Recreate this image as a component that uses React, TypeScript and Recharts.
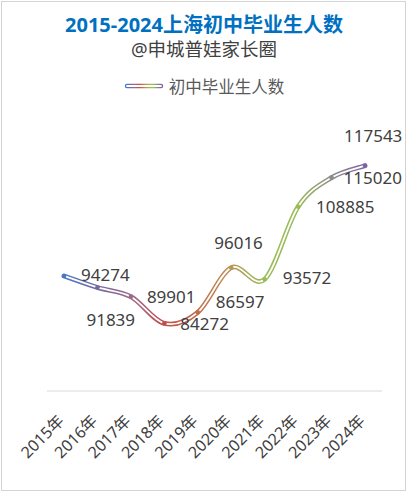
import React from 'react';
import { LineChart, Line, XAxis, YAxis, LabelList } from 'recharts';

const years = ['2015年', '2016年', '2017年', '2018年', '2019年', '2020年', '2021年', '2022年', '2023年', '2024年'];
const graduates = [94274, 91839, 89901, 84272, 86597, 96016, 93572, 108885, 115020, 117543];

const title = '2015-2024上海初中毕业生人数';
const subtitle = '@申城普娃家长圈';
const seriesName = '初中毕业生人数';

// style: gradient stops / marker colours / label placements
const gradientStops = ['#4a78c6', '#74699f', '#9c6a8b', '#c0504d', '#c06c4c', '#b8965a', '#9bbb59', '#9bbb59', '#8c8c8c', '#8064a2'];
const labelOffsets = [
  [17, -1], [-11, 33], [16, 0], [16, 1], [18, -10], [-17, -25], [18, -1], [18, 0], [12, 0], [-21, -30],
];

const FONT = "'Noto Sans', 'Noto Sans CJK SC', sans-serif";

const data = years.map((y, i) => ({ year: y, value: graduates[i] }));

// Excel-like smoothing (Catmull-Rom as cubic Bezier)
function excelCurve(context: any) {
  let pts: number[][] = [];
  return {
    areaStart() {},
    areaEnd() {},
    lineStart() { pts = []; },
    point(x: number, y: number) { pts.push([+x, +y]); },
    lineEnd() {
      const n = pts.length;
      if (!n) return;
      context.moveTo(pts[0][0], pts[0][1]);
      for (let i = 0; i < n - 1; i++) {
        const p0 = pts[Math.max(i - 1, 0)];
        const p1 = pts[i];
        const p2 = pts[i + 1];
        const p3 = pts[Math.min(i + 2, n - 1)];
        context.bezierCurveTo(
          p1[0] + (p2[0] - p0[0]) / 6, p1[1] + (p2[1] - p0[1]) / 6,
          p2[0] - (p3[0] - p1[0]) / 6, p2[1] - (p3[1] - p1[1]) / 6,
          p2[0], p2[1],
        );
      }
    },
  };
}

const Dot = (props: any) => {
  const { cx, cy, index } = props;
  if (cx == null || cy == null) return null;
  return <circle key={`d${index}`} cx={cx} cy={cy} r={2.3} fill={gradientStops[index]} />;
};

const ValueLabel = (props: any) => {
  const { x, y, value, index } = props;
  const [dx, dy] = labelOffsets[index];
  return (
    <text x={x + dx} y={y + dy + 6} textAnchor="start" fontSize={17} fill="#404040" fontFamily={FONT}>
      {value}
    </text>
  );
};

const YearTick = (props: any) => {
  const { x, y, payload } = props;
  const ax = x + 1;
  const ay = y + 31;
  return (
    <text x={ax} y={ay} textAnchor="end" fontSize={16} fill="#404040" fontFamily={FONT} transform={`rotate(-45, ${ax}, ${ay})`}>
      {payload.value}
    </text>
  );
};

export default function App() {
  return (
    <div style={{ position: 'absolute', left: 0, top: 0, width: 408, height: 493, background: '#fff', fontFamily: FONT }}>
      <div style={{ position: 'absolute', left: 1, top: 1, width: 405, height: 490, boxSizing: 'border-box', border: '1px solid #d4d4d4' }} />
      <div style={{ position: 'absolute', left: 0, top: 13, width: 408, textAlign: 'center', fontSize: 20, fontWeight: 700, color: '#0070c0', lineHeight: '24px' }}>
        {title}
      </div>
      <div style={{ position: 'absolute', left: 0, top: 38, width: 408, textAlign: 'center', fontSize: 18.5, color: '#404040', lineHeight: '22px' }}>
        {subtitle}
      </div>
      <div style={{ position: 'absolute', left: 0, top: 74, width: 408, display: 'flex', justifyContent: 'center', alignItems: 'center', height: 24 }}>
        <svg width={40} height={10} style={{ marginRight: 5 }}>
          <defs>
            <linearGradient id="legGrad" gradientUnits="userSpaceOnUse" x1="3" y1="0" x2="37" y2="0">
              {gradientStops.map((c, i) => (
                <stop key={i} offset={i / (gradientStops.length - 1)} stopColor={c} />
              ))}
            </linearGradient>
          </defs>
          <line x1={3} y1={5} x2={37} y2={5} stroke="url(#legGrad)" strokeWidth={4.5} strokeLinecap="round" />
          <line x1={3} y1={5} x2={37} y2={5} stroke="#fff" strokeWidth={1.8} strokeLinecap="round" />
        </svg>
        <span style={{ fontSize: 16.5, color: '#595959' }}>{seriesName}</span>
      </div>
      <div style={{ position: 'absolute', left: 0, top: 0 }}>
        <LineChart width={408} height={493} data={data} margin={{ top: 154, right: 26, bottom: 32, left: 47 }}>
          <defs>
            <linearGradient id="lineGrad" x1="0" y1="0" x2="1" y2="0">
              {gradientStops.map((c, i) => (
                <stop key={i} offset={i / (gradientStops.length - 1)} stopColor={c} />
              ))}
            </linearGradient>
          </defs>
          <XAxis
            dataKey="year"
            interval={0}
            height={70}
            padding={{ left: 17, right: 17 }}
            axisLine={{ stroke: '#d9d9d9', strokeWidth: 1 }}
            tickLine={false}
            tickSize={0}
            tickMargin={0}
            tick={<YearTick />}
          />
          <YAxis hide domain={[70000, 120000]} />
          <Line
            dataKey="value"
            type={excelCurve as any}
            stroke="url(#lineGrad)"
            strokeWidth={4.8}
            strokeLinecap="round"
            dot={false}
            activeDot={false}
            isAnimationActive={false}
          />
          <Line
            dataKey="value"
            type={excelCurve as any}
            stroke="#ffffff"
            strokeWidth={1.8}
            strokeLinecap="round"
            dot={<Dot />}
            activeDot={false}
            isAnimationActive={false}
          >
            <LabelList dataKey="value" content={<ValueLabel />} />
          </Line>
        </LineChart>
      </div>
    </div>
  );
}
